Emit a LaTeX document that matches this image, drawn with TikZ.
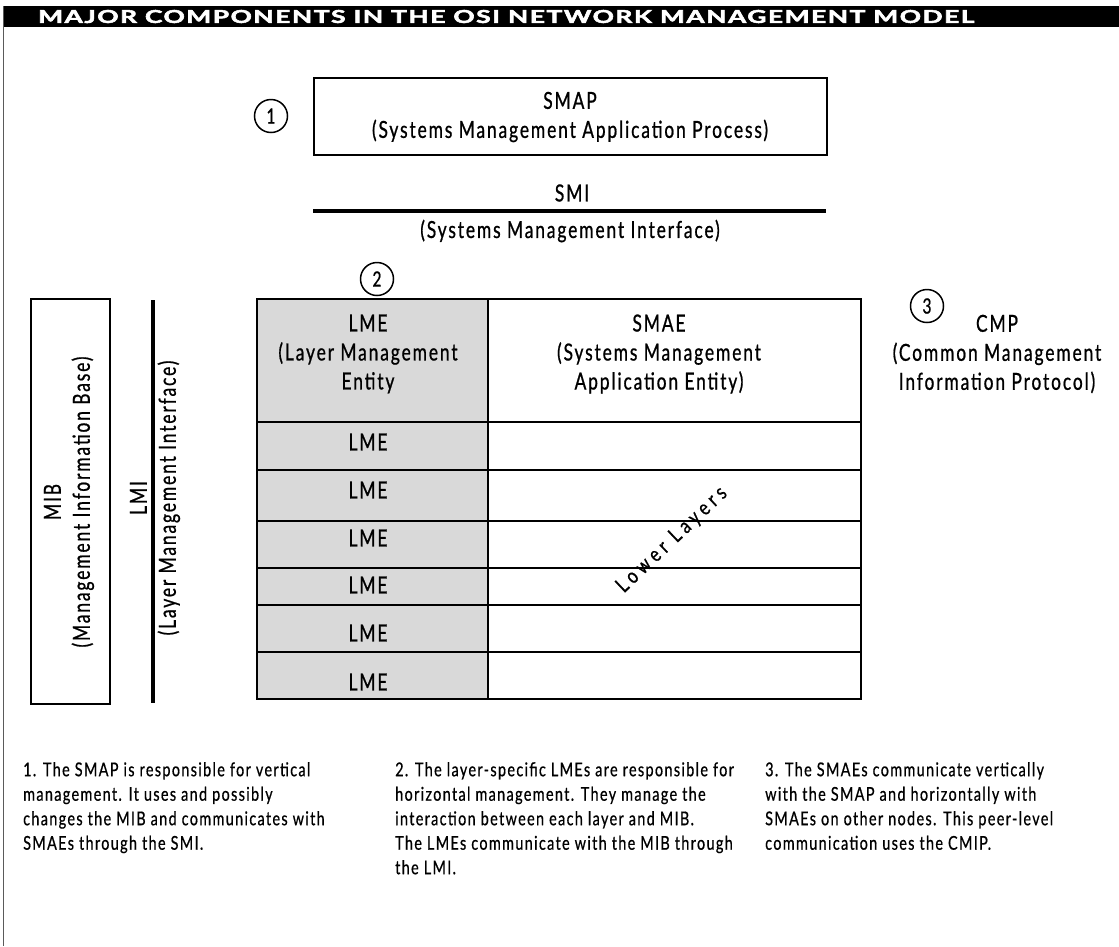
\documentclass[tikz,border=0pt]{standalone}
\usepackage{fontspec}
\setmainfont{Lato}
\newfontfamily\diafont[FakeStretch=0.74,LetterSpace=8,FakeBold=0.8]{Lato}
\newfontfamily\footfont[FakeStretch=0.76,LetterSpace=7,FakeBold=0.6]{Lato}
\newfontfamily\titlefont[LetterSpace=6,BoldFeatures={FakeBold=2.5}]{Lato}
\newfontfamily\lowfont[FakeStretch=0.8,LetterSpace=22,FakeBold=0.8]{Lato}
\definecolor{lmegray}{RGB}{217,217,217}
\definecolor{bordergray}{RGB}{90,90,90}
\tikzset{
  box/.style={draw=black, line width=2.4pt, inner sep=0pt},
  cell/.style={draw=black, line width=2.4pt, inner sep=0pt, anchor=north west},
  dtext/.style={font=\diafont\fontsize{23.5}{29}\selectfont, align=center, inner sep=0pt},
  ftext/.style={font=\footfont\fontsize{19}{24.5}\selectfont, align=left, inner sep=0pt, anchor=north west},
  num/.style={draw=black, circle, line width=1.5pt, minimum size=33pt, inner sep=0pt, font=\diafont\fontsize{21}{21}\selectfont},
  iface/.style={line width=4.5pt},
}
\begin{document}
\begin{tikzpicture}[x=1pt,y=-1pt]
\useasboundingbox (0,0) rectangle (1119,946);
% title bar and frame
\fill[black] (3,6) rectangle (1119,27);
\draw[bordergray, line width=1.6pt] (3.5,6) -- (3.5,946);
\node[inner sep=0pt, text=white, anchor=west] (title) at (38,16.5)
  {\resizebox{936pt}{13pt}{\titlefont\bfseries MAJOR COMPONENTS IN THE OSI NETWORK MANAGEMENT MODEL}};

% SMAP
\node[num] (n1) at (271,116) {1};
\node[box, minimum width=513pt, minimum height=77pt, anchor=north west] (smap) at (313,77) {};
\node[dtext] (smapt) at (570,117) {SMAP\\(Systems Management Application Process)};

% SMI
\node[dtext] (smi) at (572,193) {SMI};
\coordinate (smiL) at (313,211);
\coordinate (smiR) at (826,211);
\draw[iface] (smiL) -- (smiR);
\node[dtext] (smit) at (570,231) {(Systems Management Interface)};

% number 2
\node[num] (n2) at (377,279) {2};

% table: LME column
\node[cell, fill=lmegray, minimum width=231pt, minimum height=123pt] (l0) at (256,298) {};
\node[cell, fill=lmegray, minimum width=231pt, minimum height=48pt] (l1) at (256,421) {};
\node[cell, fill=lmegray, minimum width=231pt, minimum height=51pt] (l2) at (256,469) {};
\node[cell, fill=lmegray, minimum width=231pt, minimum height=47pt] (l3) at (256,520) {};
\node[cell, fill=lmegray, minimum width=231pt, minimum height=37pt] (l4) at (256,567) {};
\node[cell, fill=lmegray, minimum width=231pt, minimum height=47pt] (l5) at (256,604) {};
\node[cell, fill=lmegray, minimum width=231pt, minimum height=47pt] (l6) at (256,651) {};
% SMAE column
\node[cell, minimum width=373pt, minimum height=123pt] (s0) at (487,298) {};
\node[cell, minimum width=373pt, minimum height=48pt] (s1) at (487,421) {};
\node[cell, minimum width=373pt, minimum height=51pt] (s2) at (487,469) {};
\node[cell, minimum width=373pt, minimum height=47pt] (s3) at (487,520) {};
\node[cell, minimum width=373pt, minimum height=37pt] (s4) at (487,567) {};
\node[cell, minimum width=373pt, minimum height=47pt] (s5) at (487,604) {};
\node[cell, minimum width=373pt, minimum height=47pt] (s6) at (487,651) {};

% cell texts
\node[dtext] (lmet) at (368,354) {LME\\(Layer Management\\Entity};
\node[dtext] (lme1) at (368,442) {LME};
\node[dtext] (lme2) at (368,490) {LME};
\node[dtext] (lme3) at (368,538) {LME};
\node[dtext] (lme4) at (368,585) {LME};
\node[dtext] (lme5) at (368,633) {LME};
\node[dtext] (lme6) at (368,682) {LME};
\node[dtext] (smaet) at (659,354) {SMAE\\(Systems Management\\Application Entity)};
\node[inner sep=0pt, rotate=43.5, font=\lowfont\fontsize{21}{21}\selectfont] (lower) at (672,540) {Lower Layers};

% MIB
\node[box, minimum width=79pt, minimum height=405pt, anchor=north west] (mib) at (30,298) {};
\node[dtext, rotate=90] (mibt) at (69,502) {MIB\\(Management Information Base)};

% LMI
\coordinate (lmiT) at (153,300);
\coordinate (lmiB) at (153,703);
\draw[iface] (lmiT) -- (lmiB);
\node[dtext, rotate=90] (lmit) at (155,498) {LMI\\(Layer Management Interface)};

% CMP
\node[num] (n3) at (927,306) {3};
\node[dtext] (cmp) at (997,354) {CMP\\(Common Management\\Information Protocol)};

% footnotes
\node[ftext] (f1) at (23,762) {1. The SMAP is responsible for vertical\\management. It uses and possibly\\changes the MIB and communicates with\\SMAEs through the SMI.};
\node[ftext] (f2) at (395,762) {2. The layer-specific LMEs are responsible for\\horizontal management. They manage the\\interaction between each layer and MIB.\\The LMEs communicate with the MIB through\\the LMI.};
\node[ftext] (f3) at (765,762) {3. The SMAEs communicate vertically\\with the SMAP and horizontally with\\SMAEs on other nodes. This peer-level\\communication uses the CMIP.};
\end{tikzpicture}
\end{document}
